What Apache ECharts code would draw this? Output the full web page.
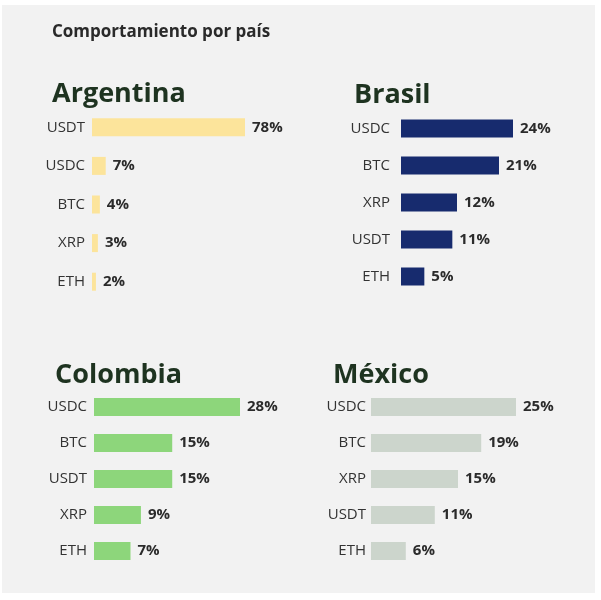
<!DOCTYPE html>
<html>
<head>
<meta charset="utf-8">
<script src="https://cdn.jsdelivr.net/npm/echarts@6/dist/echarts.min.js"></script>
<style>
html,body{margin:0;padding:0;background:#ffffff;}
#c{width:601px;height:600px;}
</style>
</head>
<body>
<div id="c"></div>
<script>
const mainTitle = 'Comportamiento por país';
const countries = ['Argentina', 'Brasil', 'Colombia', 'México'];
const argCats = ['USDT', 'USDC', 'BTC', 'XRP', 'ETH'];
const argVals = [78, 7, 4, 3, 2];
const brCats = ['USDC', 'BTC', 'XRP', 'USDT', 'ETH'];
const brVals = [24, 21, 12, 11, 5];
const coCats = ['USDC', 'BTC', 'USDT', 'XRP', 'ETH'];
const coVals = [28, 15, 15, 9, 7];
const mxCats = ['USDC', 'BTC', 'XRP', 'USDT', 'ETH'];
const mxVals = [25, 19, 15, 11, 6];

const cats = [argCats, brCats, coCats, mxCats];
const vals = [argVals, brVals, coVals, mxVals];
const colors = ['#fce49b', '#172b6e', '#8dd67b', '#ccd5cc'];
const grids = [
  {left: 92, width: 153, top: 108, height: 193},
  {left: 401, width: 112, top: 110, height: 185},
  {left: 94, width: 146, top: 389, height: 180},
  {left: 371, width: 145, top: 389, height: 180}
];
const labelMargins = [7, 11, 7, 5];
const titlePos = [
  {left: 52, top: 81},
  {left: 354, top: 82},
  {left: 55, top: 362},
  {left: 333, top: 362}
];
const FONT = 'Open Sans';

const chart = echarts.init(document.getElementById('c'), null, {renderer: 'canvas'});
const option = {
  backgroundColor: '#ffffff',
  animation: false,
  graphic: [{
    type: 'rect', z: -10, silent: true,
    shape: {x: 2, y: 5, width: 593, height: 588},
    style: {fill: '#f2f2f2'}
  }],
  title: [{
    text: mainTitle, left: 52, top: 24, padding: 0,
    textStyle: {fontFamily: FONT, fontSize: 17, fontWeight: 'bold', color: '#2a2a2a'}
  }].concat(countries.map((c, i) => ({
    text: c, left: titlePos[i].left, top: titlePos[i].top, padding: 0,
    textStyle: {fontFamily: FONT, fontSize: 27, fontWeight: 'bold', color: '#1e3320'}
  }))),
  grid: grids.map(g => Object.assign({containLabel: false}, g)),
  xAxis: vals.map((v, i) => ({
    type: 'value', gridIndex: i, min: 0, max: Math.max(...v), show: false
  })),
  yAxis: cats.map((c, i) => ({
    type: 'category', gridIndex: i, data: c, inverse: true,
    axisLine: {show: false}, axisTick: {show: false}, splitLine: {show: false},
    axisLabel: {margin: labelMargins[i], fontFamily: FONT, fontSize: 15, color: '#333333'}
  })),
  series: vals.map((v, i) => ({
    type: 'bar', xAxisIndex: i, yAxisIndex: i, data: v, barWidth: 18,
    itemStyle: {color: colors[i]},
    label: {
      show: true, position: 'right', distance: 7, formatter: '{c}%',
      fontFamily: FONT, fontSize: 15, fontWeight: 'bold', color: '#2b2b2b'
    }
  }))
};
chart.setOption(option);
</script>
</body>
</html>
